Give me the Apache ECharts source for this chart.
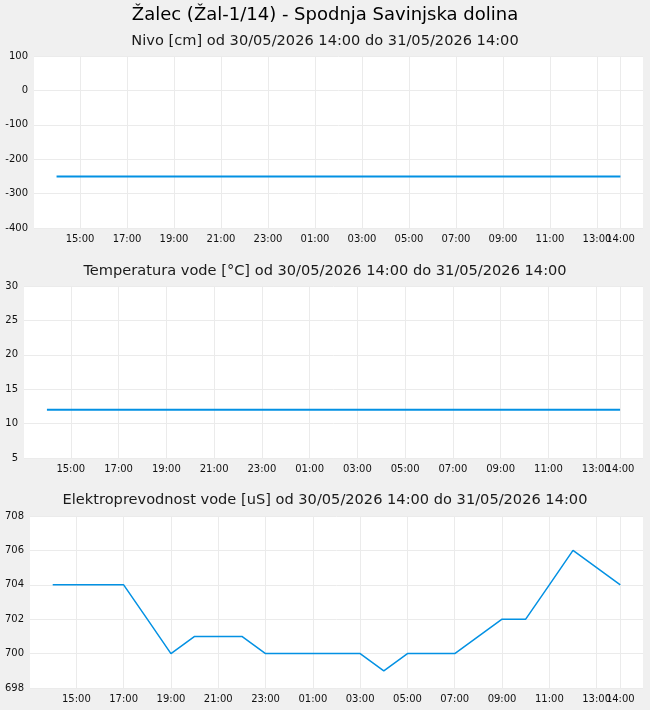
<!DOCTYPE html>
<html>
<head>
<meta charset="utf-8">
<script src="https://cdn.jsdelivr.net/npm/echarts@6/dist/echarts.min.js"></script>
<style>
html,body{margin:0;padding:0;background:#f0f0f0;}
#chart{width:650px;height:710px;}
</style>
</head>
<body>
<div id="chart"></div>
<script>
// ---- data ----
const mainTitle = 'Žalec (Žal-1/14) - Spodnja Savinjska dolina';
const panelTitles = [
  'Nivo [cm] od 30/05/2026 14:00 do 31/05/2026 14:00',
  'Temperatura vode [°C] od 30/05/2026 14:00 do 31/05/2026 14:00',
  'Elektroprevodnost vode [uS] od 30/05/2026 14:00 do 31/05/2026 14:00'
];
// hours after 30/05/2026 14:00
const hoursOffset = [0,1,2,3,4,5,6,7,8,9,10,11,12,13,14,15,16,17,18,19,20,21,22,23,24];
const nivo = [-250,-250,-250,-250,-250,-250,-250,-250,-250,-250,-250,-250,-250,-250,-250,-250,-250,-250,-250,-250,-250,-250,-250,-250,-250];
const temperatura = [12,12,12,12,12,12,12,12,12,12,12,12,12,12,12,12,12,12,12,12,12,12,12,12,12];
const prevodnost = [704,704,704,704,702,700,701,701,701,700,700,700,700,700,699,700,700,700,701,702,702,704,706,705,704];
// x tick positions (hours after start) and labels
const xTickHours = [1,3,5,7,9,11,13,15,17,19,21,23];
const xTickLabels = ['15:00','17:00','19:00','21:00','23:00','01:00','03:00','05:00','07:00','09:00','11:00','13:00'];
const xEndHour = [24];
const xEndLabel = ['14:00'];
const yRanges = [[-400,100,100],[5,30,5],[698,708,2]];

// ---- chart ----
const chart = echarts.init(document.getElementById('chart'));
const font = 'DejaVu Sans';
const lineColor = '#0391e3';
const grids = [
  {left:34, right:7, top:56, height:172},
  {left:24, right:7, top:286, height:172},
  {left:30, right:7, top:516, height:172}
];
const pad = 0.96;
const labelMap = {};
xTickHours.forEach((h,i)=>labelMap[h]=xTickLabels[i]);
xEndHour.forEach((h,i)=>labelMap[h]=xEndLabel[i]);
const seriesData = [nivo, temperatura, prevodnost];
const titleTops = [38, 268, 497];
const labelStyle = {fontFamily:font, fontSize:10, color:'#111', margin:6, hideOverlap:false};

const xAxes = [];
grids.forEach((g,i)=>{
  xAxes.push({
    type:'value', gridIndex:i, min:-pad, max:24+pad, position:'bottom',
    axisLine:{show:false},
    axisTick:{show:false, customValues:xTickHours.concat(xEndHour)},
    axisLabel:Object.assign({customValues:xTickHours, formatter:v=>labelMap[v]||''}, labelStyle),
    splitLine:{show:true, lineStyle:{color:'#ebebeb', width:1}}
  });
  xAxes.push({
    type:'value', gridIndex:i, min:-pad, max:24+pad, position:'bottom',
    axisLine:{show:false},
    axisTick:{show:false, customValues:xEndHour},
    axisLabel:Object.assign({customValues:xEndHour, formatter:v=>labelMap[v]||''}, labelStyle),
    splitLine:{show:false}
  });
});

const option = {
  backgroundColor:'#f0f0f0',
  animation:false,
  title: [
    {text:mainTitle, left:'center', top:1, textStyle:{fontFamily:font, fontSize:18, fontWeight:'normal', color:'#000'}},
  ].concat(panelTitles.map((t,i)=>({
    text:t, left:'center', top:titleTops[i]-9,
    textStyle:{fontFamily:font, fontSize:14.6, fontWeight:'normal', color:'#1a1a1a'}
  }))),
  grid: grids.map(g=>Object.assign({backgroundColor:'#fff', show:true, borderWidth:0}, g)),
  xAxis: xAxes,
  yAxis: yRanges.map((r,i)=>({
    type:'value', gridIndex:i, min:r[0], max:r[1], interval:r[2],
    axisLine:{show:false}, axisTick:{show:false},
    axisLabel:{fontFamily:font, fontSize:10, color:'#111', margin:6},
    splitLine:{show:true, lineStyle:{color:'#ebebeb', width:1}}
  })),
  series: seriesData.map((d,i)=>({
    type:'line', xAxisIndex:i*2, yAxisIndex:i,
    data: hoursOffset.map((h,k)=>[h,d[k]]),
    symbol:'none', lineStyle:{color:lineColor, width: i===2?1.5:2}
  }))
};
chart.setOption(option);
</script>
</body>
</html>
